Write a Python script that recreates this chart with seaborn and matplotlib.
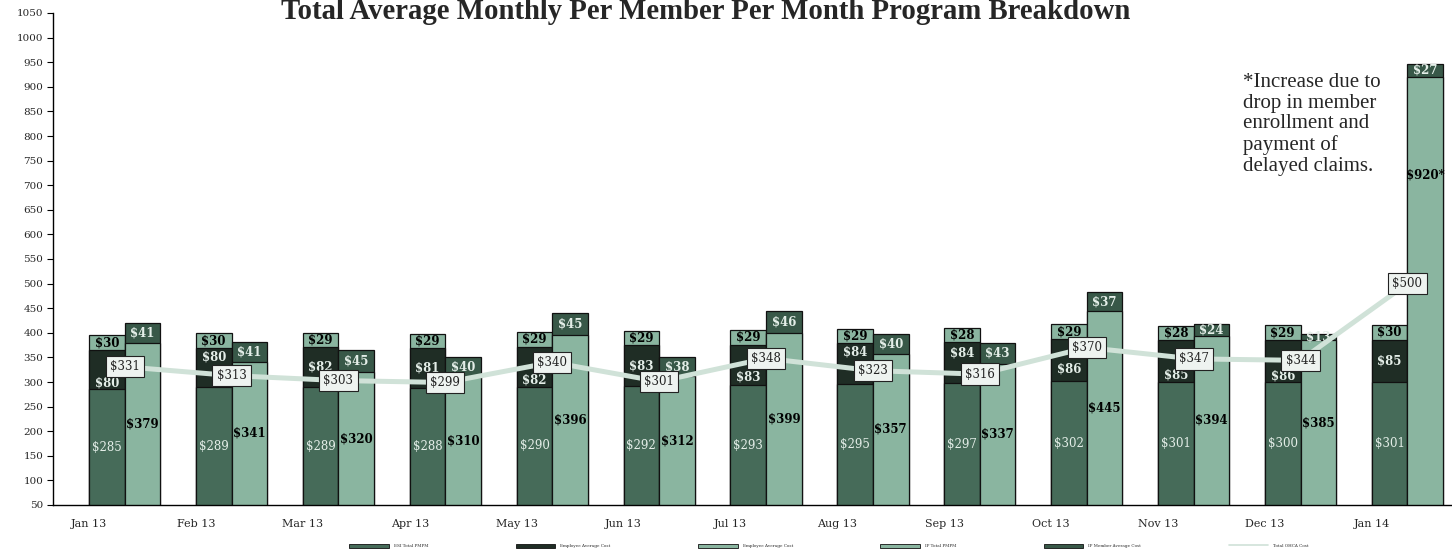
import numpy as np
import pandas as pd
import matplotlib
matplotlib.use("Agg")
import matplotlib.pyplot as plt
import seaborn as sns
from matplotlib.patches import Patch
from matplotlib.lines import Line2D

# данные
months = ["Jan 13", "Feb 13", "Mar 13", "Apr 13", "May 13", "Jun 13", "Jul 13",
          "Aug 13", "Sep 13", "Oct 13", "Nov 13", "Dec 13", "Jan 14"]
esi_total = [285, 289, 289, 288, 290, 292, 293, 295, 297, 302, 301, 300, 301]
emp_avg_dark = [80, 80, 82, 81, 82, 83, 83, 84, 84, 86, 85, 86, 85]
emp_avg_light = [30, 30, 29, 29, 29, 29, 29, 29, 28, 29, 28, 29, 30]
ip_total = [379, 341, 320, 310, 396, 312, 399, 357, 337, 445, 394, 385, 920]
ip_member = [41, 41, 45, 40, 45, 38, 46, 40, 43, 37, 24, 13, 27]
ohca_total = [331, 313, 303, 299, 340, 301, 348, 323, 316, 370, 347, 344, 500]
ip_total_labels = [f"${v}" for v in ip_total[:-1]] + ["$920*"]

C_ESI = "#466b59"
C_DARK = "#1f2d25"
C_LIGHT = "#8ab5a0"
C_IPM = "#385848"
C_LINE = "#d0e2d8"
C_WTXT = "#e4eee8"

Y0 = 50
W = 1 / 3

df = pd.DataFrame({
    "month": months,
    "esi": esi_total,
    "dark": emp_avg_dark,
    "light": emp_avg_light,
    "ip": ip_total,
    "ipm": ip_member,
    "ohca": ohca_total,
})
idx = np.arange(len(df))
df["x_esi"] = idx + W / 2
df["x_ip"] = idx + 1.5 * W
df["x_mid"] = idx + W
df["c1"] = df["esi"] + df["dark"]
df["c2"] = df["c1"] + df["light"]
df["c3"] = df["ip"] + df["ipm"]

sns.set_theme(style="white")
plt.rcParams["font.family"] = ["DejaVu Serif"]

fig = plt.figure(figsize=(14.52, 5.52), dpi=100)
ax = fig.add_axes([53 / 1452, 47 / 552, 1 - 53 / 1452, 492 / 552])

bar_kw = dict(native_scale=True, width=W, saturation=1, errorbar=None,
              edgecolor="#111111", linewidth=0.9, ax=ax)
# сначала верхние сегменты, поверх них нижние
sns.barplot(x=df["x_esi"], y=df["c2"], color=C_LIGHT, **bar_kw)
sns.barplot(x=df["x_esi"], y=df["c1"], color=C_DARK, **bar_kw)
sns.barplot(x=df["x_esi"], y=df["esi"], color=C_ESI, **bar_kw)
sns.barplot(x=df["x_ip"], y=df["c3"], color=C_IPM, **bar_kw)
sns.barplot(x=df["x_ip"], y=df["ip"], color=C_LIGHT, **bar_kw)

sns.lineplot(x=df["x_mid"], y=df["ohca"], color=C_LINE, linewidth=3.6,
             ax=ax, zorder=5)


def label_y(lo, hi, line_v, gap=27, prefer=None, half=20):
    # центр видимой части сегмента, уводим от подписи линии
    lo = max(lo, Y0)
    mid = (lo + hi) / 2
    if abs(mid - line_v) < gap and lo < line_v < hi:
        below = (line_v - half) - lo
        above = hi - (line_v + half)
        if prefer == "above" or (prefer is None and above > below):
            mid = (line_v + half + hi) / 2
        else:
            mid = (lo + line_v - half) / 2
    return mid


for _, r in df.iterrows():
    lv = r["ohca"]
    ax.text(r["x_esi"], label_y(0, r["esi"], lv), f"${r['esi']}", ha="center",
            va="center", fontsize=8.5, color=C_WTXT, zorder=4)
    ax.text(r["x_esi"], label_y(r["esi"], r["c1"], lv), f"${r['dark']}",
            ha="center", va="center", fontsize=8.5, color=C_WTXT,
            fontweight="bold", zorder=4)
    ax.text(r["x_esi"], (r["c1"] + r["c2"]) / 2, f"${r['light']}", ha="center",
            va="center", fontsize=8.5, color="black", fontweight="bold", zorder=4)
    ax.text(r["x_ip"], (r["ip"] + r["c3"]) / 2, f"${r['ipm']}", ha="center",
            va="center", fontsize=8.5, color=C_WTXT, fontweight="bold", zorder=4)

for i, r in df.iterrows():
    ax.text(r["x_ip"], label_y(0, r["ip"], r["ohca"], gap=60, prefer="above"),
            ip_total_labels[i], ha="center", va="center", fontsize=8.5,
            color="black", fontweight="bold", zorder=4)
    ax.text(r["x_mid"], r["ohca"], f"${r['ohca']}", ha="center", va="center",
            fontsize=8.5, color="#222222", zorder=6,
            bbox=dict(boxstyle="square,pad=0.35", fc="#eef3f0", ec="#222222",
                      lw=0.8))

ax.set_xlim(-0.337, 12.75)
ax.set_ylim(Y0, 1050)
ax.set_yticks(np.arange(50, 1051, 50))
ax.set_xticks(idx)
ax.set_xticklabels(months)
ax.set_xlabel("")
ax.set_ylabel("")
ax.tick_params(axis="y", labelsize=7.5, length=4, width=0.8, color="black",
               left=True, pad=3)
ax.tick_params(axis="x", labelsize=8, length=0, pad=10)
for s in ["top", "right"]:
    ax.spines[s].set_visible(False)
for s in ["left", "bottom"]:
    ax.spines[s].set_color("black")
    ax.spines[s].set_linewidth(1.0)

fig.text(0.486, 1 - 19 / 552, "Total Average Monthly Per Member Per Month Program Breakdown",
         ha="center", va="baseline", fontsize=20.7, fontweight="bold",
         family=["Liberation Serif", "DejaVu Serif"])

fig.text(1243 / 1452, 1 - 73 / 552,
         "*Increase due to\ndrop in member\nenrollment and\npayment of\ndelayed claims.",
         ha="left", va="top", fontsize=15,
         family=["Liberation Serif", "DejaVu Serif"], linespacing=1.12)

handles = [
    Patch(fc=C_ESI, ec="#111111", lw=0.6, label="ESI Total PMPM"),
    Patch(fc=C_DARK, ec="#111111", lw=0.6, label="Employee Average Cost"),
    Patch(fc=C_LIGHT, ec="#111111", lw=0.6, label="Employee Average Cost"),
    Patch(fc=C_LIGHT, ec="#111111", lw=0.6, label="IP Total PMPM"),
    Patch(fc=C_IPM, ec="#111111", lw=0.6, label="IP Member Average Cost"),
    Line2D([0], [0], color=C_LINE, lw=1.2, label="Total OHCA Cost"),
]
fig.legend(handles=handles, loc="lower center", bbox_to_anchor=(0.571, 0.0),
           ncol=6, fontsize=3, frameon=False, handlelength=9.5,
           handleheight=1.3, columnspacing=21, handletextpad=1.2)

fig.savefig("out.png", dpi=100)
plt.close(fig)
